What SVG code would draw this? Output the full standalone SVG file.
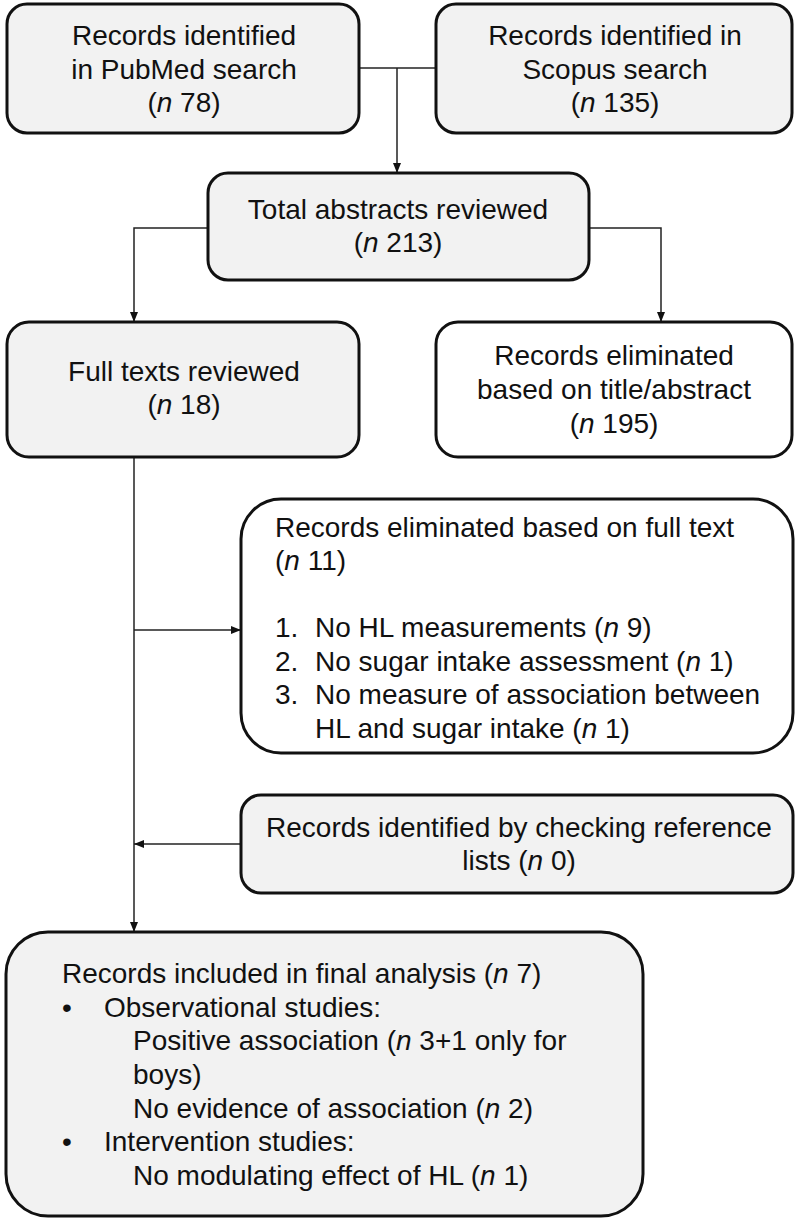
<svg xmlns="http://www.w3.org/2000/svg" width="798" height="1220" viewBox="0 0 798 1220">
<style>
  .box { stroke: #111; stroke-width: 3; }
  .gray { fill: #f2f2f2; }
  .white { fill: #ffffff; }
  text { font-family: "Liberation Sans", Arial, sans-serif; font-size: 28px; fill: #111; }
  .c { text-anchor: middle; }
  .i { font-style: italic; }
  .conn { fill: none; stroke: #222; stroke-width: 1.5; }
</style>
<defs>
  <marker id="arr" markerUnits="userSpaceOnUse" markerWidth="10" markerHeight="10" refX="10" refY="5" orient="auto">
    <path d="M0,1 L10,5 L0,9 z" fill="#111"/>
  </marker>
</defs>
<rect width="798" height="1220" fill="#ffffff"/>

<g id="connectors">
  <path class="conn" d="M359,68 H436"/>
  <path class="conn" d="M397,68 V173" marker-end="url(#arr)"/>
  <path class="conn" d="M208,228 H134 V322" marker-end="url(#arr)"/>
  <path class="conn" d="M589,228 H661 V322" marker-end="url(#arr)"/>
  <path class="conn" d="M134,457 V932" marker-end="url(#arr)"/>
  <path class="conn" d="M134,630 H241" marker-end="url(#arr)"/>
  <path class="conn" d="M241,844 H134" marker-end="url(#arr)"/>
</g>

<g id="pubmed">
  <rect class="box gray" x="7" y="4" width="352" height="129" rx="20"/>
  <text class="c" x="184" y="45">Records identified</text>
  <text class="c" x="184" y="79">in PubMed search</text>
  <text class="c" x="184" y="112">(<tspan class="i">n</tspan> 78)</text>
</g>

<g id="scopus">
  <rect class="box gray" x="436" y="4" width="356" height="129" rx="20"/>
  <text class="c" x="615" y="45">Records identified in</text>
  <text class="c" x="615" y="79">Scopus search</text>
  <text class="c" x="615" y="112">(<tspan class="i">n</tspan> 135)</text>
</g>

<g id="total">
  <rect class="box gray" x="208" y="173" width="381" height="107" rx="20"/>
  <text class="c" x="398" y="219">Total abstracts reviewed</text>
  <text class="c" x="398" y="252">(<tspan class="i">n</tspan> 213)</text>
</g>

<g id="fulltexts">
  <rect class="box gray" x="7" y="322" width="352" height="135" rx="22"/>
  <text class="c" x="184" y="381">Full texts reviewed</text>
  <text class="c" x="184" y="414">(<tspan class="i">n</tspan> 18)</text>
</g>

<g id="elim-title">
  <rect class="box white" x="436" y="322" width="356" height="135" rx="22"/>
  <text class="c" x="614" y="365">Records eliminated</text>
  <text class="c" x="614" y="399">based on title/abstract</text>
  <text class="c" x="614" y="433">(<tspan class="i">n</tspan> 195)</text>
</g>

<g id="elim-full">
  <rect class="box white" x="241" y="499" width="552" height="254" rx="40"/>
  <text x="275" y="537">Records eliminated based on full text</text>
  <text x="275" y="570">(<tspan class="i">n</tspan> 11)</text>
  <text x="275" y="637">1.</text>
  <text x="315" y="637">No HL measurements (<tspan class="i">n</tspan> 9)</text>
  <text x="275" y="671">2.</text>
  <text x="315" y="671">No sugar intake assessment (<tspan class="i">n</tspan> 1)</text>
  <text x="275" y="704">3.</text>
  <text x="315" y="704">No measure of association between</text>
  <text x="315" y="738">HL and sugar intake (<tspan class="i">n</tspan> 1)</text>
</g>

<g id="reflists">
  <rect class="box gray" x="241" y="795" width="552" height="98" rx="20"/>
  <text class="c" x="519" y="837">Records identified by checking reference</text>
  <text class="c" x="519" y="870">lists (<tspan class="i">n</tspan> 0)</text>
</g>

<g id="final">
  <rect class="box gray" x="6" y="932" width="637" height="284" rx="42"/>
  <text x="62" y="983">Records included in final analysis (<tspan class="i">n</tspan> 7)</text>
  <text x="62" y="1017">•</text>
  <text x="104" y="1017">Observational studies:</text>
  <text x="133" y="1050">Positive association (<tspan class="i">n</tspan> 3+1 only for</text>
  <text x="133" y="1084">boys)</text>
  <text x="133" y="1118">No evidence of association (<tspan class="i">n</tspan> 2)</text>
  <text x="62" y="1151">•</text>
  <text x="104" y="1151">Intervention studies:</text>
  <text x="133" y="1185">No modulating effect of HL (<tspan class="i">n</tspan> 1)</text>
</g>
</svg>
